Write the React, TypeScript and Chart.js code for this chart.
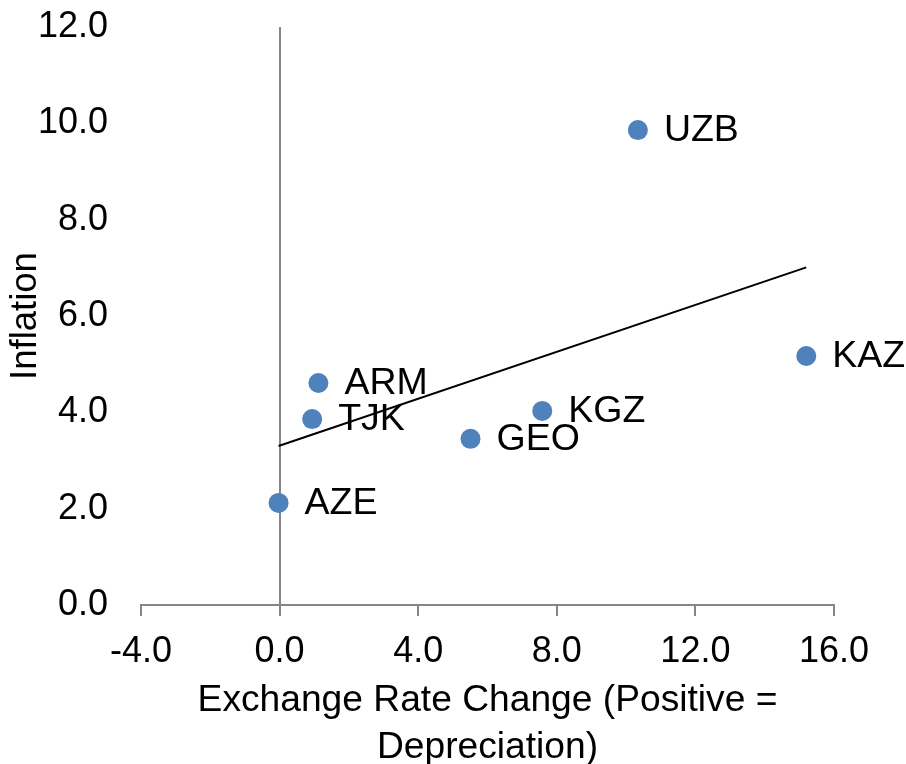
import React, { useEffect, useRef } from "react";
import { Chart, registerables } from "chart.js";

Chart.register(...registerables);

const countries = ["UZB", "KAZ", "ARM", "TJK", "GEO", "KGZ", "AZE"];
const exchangeRateChange = [10.34, 15.2, 1.12, 0.94, 5.51, 7.58, -0.03];
const inflation = [9.86, 5.17, 4.61, 3.86, 3.45, 4.03, 2.12];

const trendX = [-0.03, 15.2];
const trendY = [3.3, 7.01];

const xTicks = [-4, 0, 4, 8, 12, 16];
const yTicks = [0, 2, 4, 6, 8, 10, 12];

const xTitle = ["Exchange Rate Change (Positive =", "Depreciation)"];
const yTitle = "Inflation";

const FONT = "'Liberation Sans', Arial, Helvetica, sans-serif";
const AXIS_GREY = "#868686";
const POINT_BLUE = "#4F81BD";

export default function App() {
  const ref = useRef<HTMLCanvasElement | null>(null);

  useEffect(() => {
    document.body.style.margin = "0";
    const canvas = ref.current;
    if (!canvas) return;

    const labelPlugin = {
      id: "pointLabels",
      afterDatasetsDraw(chart: any) {
        const meta = chart.getDatasetMeta(0);
        const ctx = chart.ctx;
        ctx.save();
        ctx.font = `37.5px ${FONT}`;
        ctx.fillStyle = "#000";
        ctx.textAlign = "left";
        ctx.textBaseline = "middle";
        meta.data.forEach((el: any, i: number) => {
          ctx.fillText(countries[i], el.x + 26, el.y + 1);
        });
        ctx.restore();
      },
    };

    const chart = new Chart(canvas, {
      type: "scatter",
      data: {
        datasets: [
          {
            label: "Countries",
            data: exchangeRateChange.map((x, i) => ({ x, y: inflation[i] })),
            backgroundColor: POINT_BLUE,
            borderColor: POINT_BLUE,
            borderWidth: 0,
            pointRadius: 10,
            pointHoverRadius: 10,
            order: 1,
          },
          {
            label: "Trend",
            data: trendX.map((x, i) => ({ x, y: trendY[i] })),
            showLine: true,
            borderColor: "#000",
            borderWidth: 2,
            pointRadius: 0,
            fill: false,
            order: 2,
          } as any,
        ],
      },
      plugins: [labelPlugin],
      options: {
        responsive: false,
        animation: false,
        devicePixelRatio: 1,
        layout: { padding: { top: 27, right: 72, bottom: 0, left: 0 } },
        plugins: {
          legend: { display: false },
          tooltip: { enabled: false },
        },
        scales: {
          x: {
            type: "linear",
            position: "bottom",
            min: -4,
            max: 16,
            afterBuildTicks: (scale: any) => {
              scale.ticks = xTicks.map((v) => ({ value: v }));
            },
            afterFit: (scale: any) => {
              scale.height = 159;
              scale.paddingLeft = 0;
              scale.paddingRight = 0;
              scale.paddingTop = 0;
              scale.paddingBottom = 0;
            },
            ticks: {
              font: { family: FONT, size: 36 },
              color: "#000",
              padding: 14,
              maxRotation: 0,
              autoSkip: false,
              callback: (v: any) => Number(v).toFixed(1),
            },
            grid: {
              display: true,
              drawOnChartArea: true,
              drawTicks: true,
              tickLength: 11,
              lineWidth: 2,
              color: (ctx: any) =>
                ctx.tick && ctx.tick.value === 0 ? AXIS_GREY : "rgba(0,0,0,0)",
              tickColor: AXIS_GREY,
            },
            border: { display: true, color: AXIS_GREY, width: 2 },
            title: {
              display: true,
              text: xTitle,
              color: "#000",
              font: { family: FONT, size: 37.2, lineHeight: 1.26 },
              padding: { top: 0, bottom: -7 },
            },
          },
          y: {
            type: "linear",
            position: "left",
            min: 0,
            max: 12,
            afterBuildTicks: (scale: any) => {
              scale.ticks = yTicks.map((v) => ({ value: v }));
            },
            afterFit: (scale: any) => {
              scale.width = 141;
              scale.paddingLeft = 0;
              scale.paddingRight = 0;
              scale.paddingTop = 0;
              scale.paddingBottom = 0;
            },
            ticks: {
              font: { family: FONT, size: 36 },
              color: "#000",
              padding: 33,
              callback: (v: any) => Number(v).toFixed(1),
            },
            grid: { display: false, drawTicks: false },
            border: { display: false },
            title: {
              display: true,
              text: yTitle,
              color: "#000",
              font: { family: FONT, size: 36.5 },
              padding: { top: 4, bottom: 0 },
            },
          },
        },
      },
    });

    return () => {
      chart.destroy();
    };
  }, []);

  return (
    <div style={{ width: 906, height: 764 }}>
      <canvas ref={ref} width={906} height={764} style={{ display: "block" }} />
    </div>
  );
}
